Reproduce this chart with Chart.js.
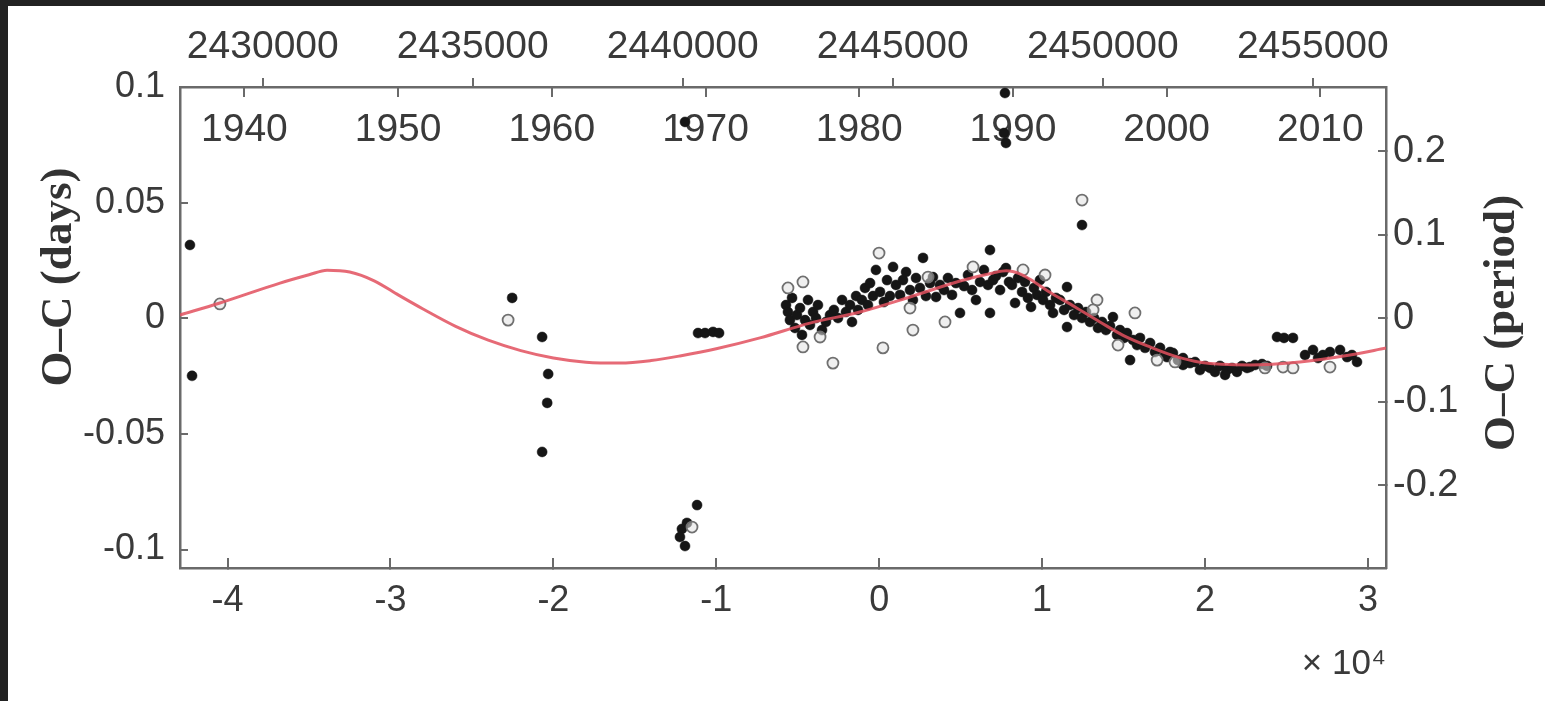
<!DOCTYPE html>
<html lang="pt-BR">
<head>
<meta charset="utf-8">
<title>Diagrama O–C</title>
<script src="https://cdn.jsdelivr.net/npm/chart.js@4.4.1/dist/chart.umd.min.js"></script>
<style>
  html, body { margin: 0; padding: 0; background: #222; width: 1545px; height: 701px; overflow: hidden; }
  #moldura { position: absolute; left: 8px; top: 6px; width: 1537px; height: 695px; background: #fff; }
</style>
</head>
<body>
<div id="moldura"><canvas id="graficoOC"></canvas></div>
<script>
// Marcas dos eixos
const ticksEpoca = [-4, -3, -2, -1, 0, 1, 2, 3];           // ciclos (x 10^4)
const ticksDias = [-0.1, -0.05, 0, 0.05, 0.1];
const ticksPeriodo = [-0.2, -0.1, 0, 0.1, 0.2];
const ticksJD = [2430000, 2435000, 2440000, 2445000, 2450000, 2455000];
const ticksAno = [1940, 1950, 1960, 1970, 1980, 1990, 2000, 2010];

// Limites
const limitesEpoca = [-4.292, 3.111];
const limitesDias = [-0.108, 0.1];
const limitesJD = [2428029, 2456743];
const limitesAno = [1935.81, 2014.27];
const periodoDias = 0.361;

// Curva ajustada (vermelha)
const epocaAjuste = [-4.292, -4.047, -3.678, -3.50, -3.389, -3.25, -3.10, -2.95, -2.80, -2.60,
  -2.40, -2.20, -2.00, -1.80, -1.59, -1.40, -1.223, -1.00, -0.732, -0.425, -0.118, 0.189, 0.496,
  0.699, 0.78, 0.864, 0.95, 1.048, 1.20, 1.355, 1.50, 1.662, 1.82, 1.969, 2.276, 2.583, 2.890, 3.111];
const ocAjuste = [0.0014, 0.0066, 0.0152, 0.0188, 0.0208, 0.0200, 0.0162, 0.0100, 0.0040, -0.0035,
  -0.0095, -0.0140, -0.0172, -0.0190, -0.0194, -0.0183, -0.0163, -0.0132, -0.0085, -0.0021, 0.0027,
  0.0092, 0.0161, 0.0196, 0.0205, 0.0192, 0.0158, 0.0112, 0.0050, -0.0016, -0.0075, -0.0124, -0.0165,
  -0.0190, -0.0202, -0.0189, -0.0159, -0.0129];

// Mínimos marcados com ponto cheio
const epocaCheia = [
  -4.231, -4.218, -2.253, -2.069, -2.032, -2.038, -2.069, -1.112, -1.069, -1.020, -0.983,
  -1.118, -1.180, -1.211, -1.223, -1.192, -1.192, 0.772, 0.766, 0.778, 1.245,
  -0.572, -0.560, -0.548, -0.535, -0.517, -0.505, -0.486, -0.474, -0.455, -0.437, -0.425,
  -0.406, -0.388, -0.376, -0.351, -0.327, -0.302, -0.278, -0.253, -0.228, -0.204, -0.179,
  -0.167, -0.142, -0.130, -0.106, -0.087, -0.069, -0.056, -0.038, -0.020, 0.005, 0.029,
  0.048, 0.066, 0.085, 0.103, 0.128, 0.146, 0.165, 0.189, 0.207, 0.226, 0.250, 0.269,
  0.287, 0.312, 0.330, 0.349, 0.373, 0.398, 0.422, 0.447, 0.471, 0.496, 0.521, 0.545,
  0.570, 0.594, 0.619, 0.643, 0.668, 0.680, 0.680, 0.699, 0.717, 0.742, 0.760, 0.778, 0.797,
  0.815, 0.834, 0.852, 0.877, 0.895, 0.913, 0.932, 0.950, 0.969, 0.987, 1.006, 1.024,
  1.049, 1.067, 1.085, 1.110, 1.135, 1.153, 1.153, 1.171, 1.196, 1.221, 1.245, 1.270,
  1.294, 1.319, 1.343, 1.368, 1.392, 1.417, 1.435, 1.460, 1.478, 1.503, 1.521, 1.540,
  1.558, 1.583, 1.601, 1.632, 1.663, 1.693, 1.724, 1.755, 1.785, 1.803, 1.834, 1.865, 1.908,
  1.767, 1.865, 1.939, 1.969, 2.000, 2.031, 2.061, 2.092, 2.123, 2.135, 2.166, 2.196,
  2.227, 2.258, 2.276, 2.307, 2.350, 2.381, 2.442, 2.485, 2.540, 2.614, 2.663, 2.694,
  2.724, 2.767, 2.829, 2.872, 2.902, 2.933
];
const ocCheia = [
  0.0317, -0.0249, 0.0088, -0.0081, -0.0241, -0.0366, -0.0578, -0.0064, -0.0064, -0.0059, -0.0064,
  -0.0808, -0.0885, -0.0911, -0.0946, -0.0985, 0.0849, 0.0974, 0.0801, 0.0758, 0.0403,
  0.0057, 0.0027, -0.0008, 0.0088, -0.0042, 0.0014, 0.0044, -0.0072, -0.0008, 0.0079, -0.0029,
  0.0027, 0.0001, 0.0057, -0.0051, -0.0016, 0.0014, 0.0036, 0.0001, 0.0079, 0.0027, 0.0057,
  -0.0016, 0.0096, 0.0036, 0.0079, 0.0131, 0.0057, 0.0152, 0.0096, 0.0209, 0.0114, 0.0070,
  0.0165, 0.0096, 0.0222, 0.0144, 0.0101, 0.0165, 0.0200, 0.0122, 0.0079, 0.0174, 0.0131, 0.0261,
  0.0096, 0.0152, 0.0178, 0.0092, 0.0144, 0.0122, 0.0174, 0.0101, 0.0152, 0.0023, 0.0139, 0.0187,
  0.0122, 0.0079, 0.0157, 0.0209, 0.0144, 0.0295, 0.0023, 0.0165, 0.0183, 0.0122, 0.0200, 0.0217, 0.0157,
  0.0144, 0.0066, 0.0174, 0.0114, 0.0157, 0.0088, 0.0049, 0.0131, 0.0101, 0.0165, 0.0079, 0.0114,
  0.0057, 0.0023, 0.0088, 0.0079, 0.0036, 0.0135, -0.0038, 0.0057, 0.0014, 0.0044, 0.0001, 0.0027,
  -0.0016, 0.0001, -0.0042, -0.0016, -0.0051, -0.0034, 0.0005, -0.0072, -0.0051, -0.0085, -0.0064, -0.0181,
  -0.0094, -0.0116, -0.0085, -0.0128, -0.0107, -0.0146, -0.0128, -0.0159, -0.0146, -0.0150, -0.0181, -0.0172, -0.0194,
  -0.0168, -0.0202, -0.0189, -0.0224, -0.0206, -0.0215, -0.0232, -0.0206, -0.0245, -0.0224, -0.0215, -0.0232,
  -0.0206, -0.0215, -0.0211, -0.0202, -0.0198, -0.0206, -0.0081, -0.0085, -0.0085, -0.0159, -0.0137, -0.0172,
  -0.0159, -0.0146, -0.0137, -0.0168, -0.0159, -0.0189
];

// Mínimos marcados com círculo aberto
const epocaAberta = [-4.047, -2.278, -1.149, -0.560, -0.468, -0.468, -0.363, -0.284, -0.001, 0.023,
  0.189, 0.207, 0.300, 0.404, 0.576, 0.883, 1.018, 1.245, 1.337, 1.313, 1.570, 1.466, 1.706,
  1.816, 2.368, 2.479, 2.540, 2.767];
const ocAberta = [0.0062, -0.0008, -0.0903, 0.0131, 0.0157, -0.0124, -0.0081, -0.0194, 0.0282, -0.0128,
  0.0044, -0.0051, 0.0178, -0.0016, 0.0222, 0.0209, 0.0187, 0.0511, 0.0079, 0.0036, 0.0023, -0.0116, -0.0181,
  -0.0189, -0.0215, -0.0211, -0.0215, -0.0211];

// Estilo comum
const corEixo = '#6a6a6a';
const corTexto = '#3a3a3a';
const familiaSans = "'Liberation Sans', Arial, Helvetica, sans-serif";

function paraPontos(xs, ys) {
  return xs.map((x, i) => ({ x: x, y: ys[i] }));
}

/**
 * Monta um eixo linear com marcas fixas e tamanho fixo
 */
function criarEixo(posicao, limites, marcas, tamanho, extra) {
  const horizontal = posicao === 'top' || posicao === 'bottom';
  return {
    type: 'linear',
    position: posicao,
    min: limites[0],
    max: limites[1],
    afterBuildTicks: (escala) => {
      escala.ticks = marcas.map(v => ({ value: v }));
    },
    afterFit: (escala) => {
      if (horizontal) {
        escala.height = tamanho;
      } else {
        escala.width = tamanho;
      }
    },
    border: { display: true, color: corEixo, width: 2.5 },
    grid: {
      drawOnChartArea: false,
      color: corEixo,
      lineWidth: 2,
      tickLength: extra.tickLength
    },
    ticks: {
      color: corTexto,
      font: { family: familiaSans, size: extra.tamanhoFonte },
      padding: extra.padding,
      mirror: !!extra.mirror,
      autoSkip: false,
      maxRotation: 0,
      minRotation: 0,
      callback: (v) => String(v)
    },
    weight: extra.weight || 0,
    ...(extra.options || {})
  };
}

// Títulos laterais desenhados de baixo para cima
const titulosLaterais = {
  id: 'titulosLaterais',
  afterDraw(chart) {
    const ctx = chart.ctx;
    const area = chart.chartArea;
    ctx.save();
    ctx.fillStyle = '#333';
    ctx.font = "bold 45px 'Liberation Serif', 'Times New Roman', serif";
    ctx.textAlign = 'center';
    ctx.textBaseline = 'middle';
    const titulos = [
      ['O–C (days)', area.left - 121, area.top + 190],
      ['O–C (period)', area.right + 116, area.top + 236]
    ];
    titulos.forEach(([texto, x, y]) => {
      ctx.save();
      ctx.translate(x, y);
      ctx.rotate(-Math.PI / 2);
      ctx.fillText(texto, 0, 0);
      ctx.restore();
    });
    ctx.restore();
  }
};

const config = {
  type: 'scatter',
  data: {
    datasets: [
      {
        label: 'ajuste',
        data: paraPontos(epocaAjuste, ocAjuste),
        showLine: true,
        borderColor: 'rgba(226, 80, 94, 0.85)',
        borderWidth: 3,
        pointRadius: 0,
        cubicInterpolationMode: 'monotone',
        xAxisID: 'x',
        yAxisID: 'y'
      },
      {
        label: 'abertos',
        data: paraPontos(epocaAberta, ocAberta),
        pointRadius: 5.5,
        pointBackgroundColor: 'rgba(225, 225, 225, 0.55)',
        pointBorderColor: '#707070',
        pointBorderWidth: 1.8,
        xAxisID: 'x',
        yAxisID: 'y'
      },
      {
        label: 'cheios',
        data: paraPontos(epocaCheia, ocCheia),
        pointRadius: 5,
        pointBackgroundColor: '#161616',
        pointBorderColor: '#161616',
        pointBorderWidth: 0.5,
        xAxisID: 'x',
        yAxisID: 'y'
      }
    ]
  },
  options: {
    responsive: true,
    maintainAspectRatio: false,
    animation: false,
    layout: { padding: 0 },
    plugins: {
      legend: { display: false },
      tooltip: { enabled: false }
    },
    scales: {
      x: criarEixo('bottom', limitesEpoca, ticksEpoca, 133, {
        tickLength: -10, tamanhoFonte: 36, padding: 21,
        options: {
          title: {
            display: true,
            text: '× 10⁴',
            align: 'end',
            color: corTexto,
            font: { family: familiaSans, size: 35 },
            padding: { top: 0, bottom: 16 }
          }
        }
      }),
      xJD: criarEixo('top', limitesJD, ticksJD, 81, {
        tickLength: 9, tamanhoFonte: 39, padding: 7, weight: 2
      }),
      xAno: criarEixo('top', limitesAno, ticksAno, 0, {
        tickLength: -10, tamanhoFonte: 39, padding: 20, mirror: true, weight: 1,
        options: { border: { display: false } }
      }),
      y: criarEixo('left', limitesDias, ticksDias, 172, {
        tickLength: -8, tamanhoFonte: 36, padding: 23
      }),
      yPer: criarEixo('right', [limitesDias[0] / periodoDias, limitesDias[1] / periodoDias], ticksPeriodo, 159, {
        tickLength: -8, tamanhoFonte: 38, padding: 15
      })
    }
  },
  plugins: [titulosLaterais]
};

const ctx = document.getElementById('graficoOC').getContext('2d');
new Chart(ctx, config);
</script>
</body>
</html>
